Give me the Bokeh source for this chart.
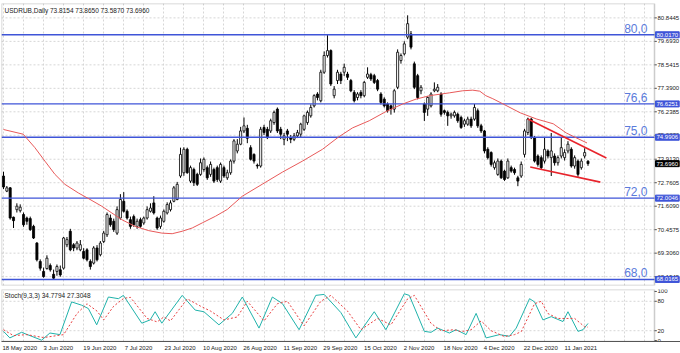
from bokeh.plotting import figure
from bokeh.models import Range1d, FixedTicker, Label, ColumnDataSource, BoxAnnotation
from bokeh.core.properties import value
from bokeh.layouts import column
from bokeh.embed import file_html
from bokeh.resources import INLINE

# ---------------- data ----------------
opens = [73.09, 72.35, 72.51, 71.07, 71.44, 71.39, 71.20, 71.03, 71.00, 70.62,
         69.80, 68.90, 68.41, 68.55, 68.70, 68.27, 68.41, 68.49, 68.57, 69.72,
         70.38, 69.72, 69.56, 69.47, 69.39, 69.47, 68.90, 68.82, 69.56, 69.23,
         69.88, 70.21, 71.03, 70.87, 70.29, 71.03, 71.85, 71.36, 70.95, 71.10,
         70.62, 70.95, 70.79, 71.03, 71.36, 71.77, 71.03, 70.62, 70.87, 71.28,
         71.44, 71.85, 71.94, 73.09, 73.25, 74.40, 72.84, 73.41, 73.17, 73.17,
         73.41, 73.50, 73.17, 73.41, 73.50, 72.84, 73.50, 73.00, 73.25, 73.82,
         74.32, 74.65, 75.30, 75.43, 74.48, 74.15, 73.62, 73.58, 75.47, 75.38,
         75.30, 75.71, 76.37, 75.38, 74.89, 75.30, 74.97, 74.89, 75.06, 75.14,
         75.38, 75.71, 76.04, 76.53, 77.11, 76.78, 78.18, 79.00, 79.24, 77.03,
         77.77, 78.09, 78.18, 78.09, 77.77, 77.19, 76.94, 77.19, 77.03, 77.93,
         78.06, 78.01, 77.77, 77.11, 76.86, 76.62, 76.53, 76.37, 77.44, 78.75,
         79.08, 79.90, 80.06, 78.59, 78.01, 77.27, 76.62, 76.37, 76.53, 77.27,
         77.27, 77.11, 76.29, 76.21, 76.04, 76.04, 76.12, 75.96, 75.63, 75.63,
         75.88, 75.88, 76.29, 75.55, 75.30, 74.40, 74.24, 73.50, 73.17, 73.82,
         73.33, 73.00, 73.50, 73.41, 73.00, 73.09, 74.15, 75.22, 75.88, 74.97,
         74.07, 73.99, 73.82, 74.32, 73.99, 74.07, 73.74, 74.07, 73.99, 74.32,
         74.40, 73.58, 73.82, 73.50, 74.07, 73.8154]
highs = [73.30, 72.60, 72.55, 71.10, 71.75, 71.70, 71.30, 71.10, 71.10, 70.70,
         69.85, 69.00, 68.60, 69.20, 68.80, 68.50, 68.75, 68.70, 70.10, 70.10,
         70.50, 69.80, 69.90, 69.95, 69.55, 69.55, 69.00, 69.65, 69.70, 69.90,
         70.40, 71.30, 71.20, 71.00, 71.60, 72.20, 72.30, 71.45, 71.10, 71.20,
         71.00, 71.05, 71.10, 71.60, 71.75, 72.10, 71.10, 71.15, 71.45, 71.80,
         71.90, 72.60, 72.80, 74.48, 74.50, 74.48, 73.60, 73.50, 73.25, 73.95,
         74.00, 73.60, 73.80, 73.50, 73.60, 73.75, 73.60, 73.40, 73.90, 74.90,
         74.90, 75.50, 75.96, 75.60, 74.60, 74.20, 73.70, 75.50, 75.60, 75.50,
         75.90, 76.30, 76.45, 75.50, 75.20, 75.40, 75.10, 75.20, 75.35, 75.70,
         76.10, 76.30, 76.60, 77.10, 77.20, 78.30, 79.20, 80.00, 79.30, 77.50,
         78.30, 78.20, 78.60, 78.20, 77.85, 77.30, 77.20, 77.30, 77.75, 78.42,
         78.15, 78.10, 77.85, 77.20, 76.95, 76.70, 76.60, 77.35, 79.30, 79.10,
         79.70, 80.97, 80.20, 78.70, 78.10, 77.55, 76.70, 77.00, 77.20, 77.68,
         77.60, 77.20, 76.35, 76.30, 76.20, 76.30, 76.20, 76.05, 75.90, 76.00,
         76.00, 76.62, 76.40, 75.65, 75.35, 74.50, 74.30, 73.85, 73.95, 73.90,
         73.40, 73.95, 73.60, 73.50, 73.10, 73.80, 75.40, 75.95, 75.95, 75.05,
         74.15, 74.10, 75.00, 74.40, 75.20, 74.20, 74.10, 74.97, 74.40, 74.80,
         74.50, 74.10, 73.90, 73.95, 74.45, 73.8650]
lows = [72.45, 72.30, 70.95, 70.54, 71.30, 71.30, 70.60, 70.70, 70.40, 70.00,
        68.90, 68.45, 68.10, 68.50, 68.40, 68.00, 68.20, 68.15, 68.50, 69.60,
        69.40, 69.40, 69.45, 69.40, 69.00, 68.90, 68.50, 68.75, 68.90, 69.15,
        69.80, 70.10, 70.60, 70.35, 70.20, 70.95, 71.30, 70.95, 70.50, 70.60,
        70.50, 70.55, 70.70, 70.95, 71.30, 71.20, 70.45, 70.50, 70.80, 71.20,
        71.35, 71.80, 71.90, 73.00, 73.10, 73.20, 72.75, 72.60, 72.60, 73.10,
        73.30, 72.90, 73.05, 72.75, 72.80, 72.75, 73.00, 72.90, 73.15, 73.70,
        74.20, 74.60, 75.20, 74.70, 73.85, 73.70, 73.45, 73.50, 75.10, 74.90,
        75.20, 75.60, 75.20, 74.90, 74.60, 74.80, 74.70, 74.80, 74.95, 75.00,
        75.30, 75.60, 75.95, 76.45, 76.80, 76.70, 78.10, 78.90, 77.50, 76.90,
        77.60, 77.60, 78.00, 77.80, 77.20, 76.70, 76.80, 76.90, 76.95, 77.85,
        77.75, 77.60, 77.25, 76.60, 76.45, 76.20, 76.10, 76.20, 77.35, 78.60,
        79.00, 79.80, 79.30, 77.35, 76.85, 77.10, 75.79, 76.04, 76.45, 77.20,
        77.20, 76.00, 76.10, 75.55, 75.90, 75.95, 75.70, 75.40, 75.50, 75.55,
        75.45, 75.80, 75.45, 75.20, 74.20, 73.90, 73.55, 73.40, 73.10, 72.95,
        72.85, 72.95, 73.25, 73.15, 72.59, 73.00, 74.00, 75.10, 74.90, 73.75,
        73.55, 73.40, 73.70, 73.95, 73.09, 73.60, 73.60, 73.95, 73.85, 74.20,
        73.50, 73.45, 73.05, 73.40, 73.95, 73.5870]
closes = [72.55, 72.51, 71.03, 70.90, 71.61, 71.56, 70.70, 70.87, 70.46, 70.05,
          68.98, 68.57, 68.16, 69.06, 68.49, 68.08, 68.65, 68.24, 70.05, 69.97,
          69.47, 69.56, 69.80, 69.72, 69.06, 68.98, 68.65, 69.56, 68.98, 69.80,
          70.29, 71.20, 70.70, 70.46, 71.44, 71.94, 71.36, 71.03, 70.62, 70.70,
          70.87, 70.62, 71.03, 71.44, 71.52, 71.28, 70.54, 71.03, 71.36, 71.69,
          71.77, 72.51, 72.68, 74.15, 74.40, 73.25, 73.50, 72.76, 72.68, 73.74,
          73.91, 73.00, 73.66, 72.84, 72.92, 73.66, 73.09, 73.25, 73.82, 74.81,
          74.65, 75.30, 75.55, 74.94, 73.91, 73.82, 73.58, 75.38, 75.22, 74.97,
          75.80, 76.21, 75.30, 75.14, 75.06, 75.14, 74.89, 75.06, 75.22, 75.63,
          76.04, 76.21, 76.45, 77.03, 76.94, 78.18, 79.00, 79.24, 77.60, 77.35,
          78.18, 77.77, 78.42, 77.93, 77.27, 76.78, 77.11, 77.03, 77.68, 78.09,
          77.85, 77.68, 77.35, 76.70, 76.53, 76.29, 76.37, 77.27, 79.16, 79.00,
          79.57, 80.56, 79.41, 77.44, 76.94, 77.44, 76.21, 76.94, 77.11, 77.35,
          77.44, 76.12, 76.21, 76.04, 76.12, 76.21, 75.80, 75.47, 75.80, 75.88,
          75.55, 76.45, 75.55, 75.30, 74.32, 73.99, 73.66, 73.74, 73.82, 73.00,
          72.92, 73.82, 73.33, 73.25, 72.84, 73.66, 75.30, 75.88, 74.97, 73.82,
          73.66, 73.50, 74.40, 74.07, 74.32, 73.74, 73.99, 74.48, 74.24, 74.65,
          73.58, 73.99, 73.17, 73.82, 74.24, 73.6960]

# moving average (red), read at points
ma_x = [0, 5.9, 9.4, 12.4, 15.4, 18.4, 22.4, 25.9, 29.4, 32.4, 35.4, 39.4, 43.5,
        47.4, 50.5, 53.5, 56.5, 59.5, 63.5, 67.0, 71.5, 77.5, 83.5, 89.5, 95.5,
        100.3, 104.5, 109.5, 114.5, 119.5, 123.5, 127.6, 133.6, 137.5, 140.5,
        142.6, 144.4, 146.5, 149.5, 154.7, 159.5, 164.6, 168.5, 171.5, 174.7]
ma_v = [75.37, 75.14, 74.48, 73.82, 73.17, 72.68, 72.26, 71.94, 71.61, 71.28,
        70.95, 70.62, 70.41, 70.29, 70.26, 70.38, 70.54, 70.79, 71.12, 71.45,
        72.10, 72.69, 73.28, 73.82, 74.40, 75.00, 75.45, 75.80, 76.25, 76.62,
        76.86, 77.03, 77.17, 77.27, 77.30, 77.25, 77.03, 76.88, 76.63, 76.19,
        75.89, 75.65, 75.20, 74.96, 74.71]

# triangle trend lines
tl_up_x = [157.0, 180.5]
tl_up_v = [75.89, 73.97]
tl_lo_x = [157.7, 178.7]
tl_lo_v = [73.53, 72.79]

levels = [80.0170, 76.6251, 74.9906, 72.0046, 68.0165]
level_names = ["80,0", "76,6", "75,0", "72,0", "68,0"]
last_close = 73.6960

price_ticks = [80.8445, 79.6930, 78.5415, 77.3900, 76.2385, 75.0870, 73.9130,
               72.7605, 71.6090, 70.4575, 69.3060, 68.1545]

# stochastic (9,3,3)
st_x = [0, 1.9, 5.4, 11.4, 13.9, 16.9, 20.4, 23.4, 25.4, 27.9, 31.4, 34.4, 35.9,
        41.4, 43.9, 45.4, 47.4, 53.5, 57.4, 60.0, 64.5, 68.5, 71.5, 76.5, 80.5,
        83.5, 88.5, 93.5, 96.0, 101.0, 105.5, 111.0, 114.5, 120.0, 121.5, 126.0,
        128.0, 130.0, 133.5, 135.5, 138.5, 141.5, 144.5, 148.5, 151.5, 153.5,
        157.5, 159.0, 161.5, 164.0, 167.5, 169.0, 172.0, 173.5, 175.0]
st_main = [18.7, 5.3, 16.7, 0.7, 15.3, 12.0, 78.7, 72.0, 65.3, 32.0, 88.7, 85.3,
           92.0, 35.3, 42.0, 58.7, 35.3, 92.0, 62.0, 58.7, 32.0, 55.3, 88.7, 25.3,
           88.7, 75.3, 22.0, 92.0, 94.0, 57.0, 5.3, 58.7, 22.0, 95.3, 92.0, 18.7,
           16.7, 25.3, 15.3, 22.0, 12.0, 55.3, 5.3, 12.0, 8.7, 25.3, 85.3, 78.7,
           42.0, 48.7, 38.7, 58.7, 18.7, 22.0, 34.78]
sg_x = [0, 3, 7, 12, 15, 18, 22, 25, 28, 30, 33, 36, 38, 43, 46, 48, 50, 55, 59,
        62, 66, 70, 73, 78, 82, 85, 90, 95, 98, 103, 107, 112, 116, 121, 123, 128,
        131, 135, 137, 140, 143, 146, 150, 153, 155, 159, 161, 163, 166, 169, 171,
        174, 175]
sg_main = [22, 10, 12, 6, 9, 12, 55, 75, 60, 42, 70, 86, 88, 45, 38, 48, 40, 85,
           70, 60, 42, 48, 80, 40, 75, 80, 30, 80, 92, 60, 22, 45, 32, 85, 92, 35,
           20, 22, 18, 22, 40, 20, 8, 12, 18, 75, 80, 55, 45, 45, 45, 28, 27.30]
stoch_ticks = [100, 80, 20, 0]

date_ticks = [0, 12, 24, 36, 48, 60, 72, 84, 96, 108, 120, 132, 144, 156, 168]
date_labels = ["18 May 2020", "3 Jun 2020", "19 Jun 2020", "7 Jul 2020",
               "23 Jul 2020", "10 Aug 2020", "26 Aug 2020", "11 Sep 2020",
               "29 Sep 2020", "15 Oct 2020", "2 Nov 2020", "18 Nov 2020",
               "4 Dec 2020", "22 Dec 2020", "11 Jan 2021"]

# ---------------- styling / layout ----------------
FONT = "Liberation Sans"
BLUE = "#3F55D8"
LBLUE = "#5B7BDB"
GRID = "#D6D6D6"
EDGE = "#555555"
PX_PER_BAR = 3.34
X0 = -0.6
XS = X0 + 653 / PX_PER_BAR          # right edge of the chart area (price scale starts)
X1 = X0 + 679 / PX_PER_BAR          # right edge of the window
Y0, Y1 = 67.72, 81.55
CHAR_PX = 2.95
vgrid = list(range(0, 195, 6))


def value_box(y, txt, color):
    lab = Label(x=XS, y=y, x_offset=1, text=txt, text_align="left",
                text_baseline="middle", text_font=FONT, text_font_size="6px",
                text_color="white", background_fill_color=color,
                background_fill_alpha=1.0, border_line_color=color)
    try:
        lab.padding = 1
    except Exception:
        pass
    return lab


idx = list(range(len(closes)))
up = [i for i in idx if closes[i] >= opens[i]]
dn = [i for i in idx if closes[i] < opens[i]]

main = figure(width=680, height=287, x_range=Range1d(X0, X1),
              y_range=Range1d(Y0, Y1), output_backend="svg",
              toolbar_location=None, x_axis_location=None, y_axis_location=None,
              min_border_left=1, min_border_right=0, min_border_top=3,
              min_border_bottom=2)
main.outline_line_color = None
main.xgrid.ticker = FixedTicker(ticks=vgrid)
main.xgrid.grid_line_color = GRID
main.xgrid.grid_line_dash = "2 2"
main.ygrid.visible = False

# horizontal grid lines of the price scale (chart area only)
main.segment(x0=X0, y0=price_ticks, x1=XS, y1=price_ticks, line_color=GRID,
             line_dash="2 2", line_width=1)

# candles
main.segment(x0=idx, y0=lows, x1=idx, y1=highs, line_color="black", line_width=1)
src_up = ColumnDataSource(dict(x=up, top=[closes[i] for i in up], bottom=[opens[i] for i in up]))
src_dn = ColumnDataSource(dict(x=dn, top=[opens[i] for i in dn], bottom=[closes[i] for i in dn]))
main.vbar(x="x", top="top", bottom="bottom", width=0.62, source=src_up,
          fill_color="white", line_color="black", line_width=0.8)
main.vbar(x="x", top="top", bottom="bottom", width=0.62, source=src_dn,
          fill_color="black", line_color="black", line_width=0.8)

# horizontal levels
main.segment(x0=X0, y0=levels, x1=XS, y1=levels, line_color=BLUE, line_width=1.4)

main.line(ma_x, ma_v, line_color="#E85A5A", line_width=1)
main.line(tl_up_x, tl_up_v, line_color="#E8242C", line_width=1.6)
main.line(tl_lo_x, tl_lo_v, line_color="#E8242C", line_width=1.6)

# chart border and price scale
main.add_layout(BoxAnnotation(left=X0, right=XS, bottom=Y0, top=Y1, fill_alpha=0,
                              line_color=EDGE, line_width=1.5))
main.segment(x0=XS, y0=price_ticks, x1=XS + 0.7, y1=price_ticks, line_color=EDGE, line_width=1)
main.text(x=XS, y=price_ticks, text=[f"{t:.4f}" for t in price_ticks], x_offset=3,
          text_baseline="middle", text_align="left", text_font=value(FONT),
          text_font_size="6px", text_color="#222222")

for lv, nm in zip(levels, level_names):
    main.add_layout(Label(x=XS, y=lv, x_offset=-7, y_offset=2, text=nm,
                          text_align="right", text_baseline="bottom",
                          text_font=FONT, text_font_size="12px", text_color=LBLUE))
    main.add_layout(value_box(lv, f"{lv:.4f}", BLUE))
main.add_layout(value_box(last_close, f"{last_close:.4f}", "black"))

main.add_layout(Label(x=X0, y=Y1, x_offset=3, y_offset=-3,
                      text="USDRUB,Daily  73.8154 73.8650 73.5870 73.6960",
                      text_baseline="top", text_font=FONT, text_font_size="6.5px",
                      text_color="#222222"))

# ---------------- stochastic panel ----------------
S0, S1 = -2, 104
st = figure(width=680, height=66, x_range=main.x_range, y_range=Range1d(S0, S1),
            output_backend="svg", toolbar_location=None, y_axis_location=None,
            min_border_left=1, min_border_right=0, min_border_top=2,
            min_border_bottom=0)
st.outline_line_color = None
st.xgrid.ticker = FixedTicker(ticks=vgrid)
st.xgrid.grid_line_color = GRID
st.xgrid.grid_line_dash = "2 2"
st.ygrid.visible = False
st.segment(x0=X0, y0=[20, 80], x1=XS, y1=[20, 80], line_color=GRID,
           line_dash="2 2", line_width=1)

# date labels start at their bar (left aligned like the terminal)
lab_pos = [t + len(l) * CHAR_PX / 2 / PX_PER_BAR for t, l in zip(date_ticks, date_labels)]
xa = st.xaxis[0]
xa.ticker = FixedTicker(ticks=lab_pos)
xa.major_label_overrides = {p: l for p, l in zip(lab_pos, date_labels)}
xa.major_label_text_font_size = "6px"
xa.major_label_text_font = FONT
xa.major_label_text_color = "#222222"
xa.major_tick_out = 0
xa.major_tick_in = 0
xa.minor_tick_out = 0
xa.minor_tick_in = 0
xa.major_label_standoff = 3
xa.axis_line_color = EDGE

st.line(st_x, st_main, line_color="#20B2AA", line_width=1)
st.line(sg_x, sg_main, line_color="#E84040", line_width=1, line_dash="2 2")

st.add_layout(BoxAnnotation(left=X0, right=XS, bottom=S0, top=S1, fill_alpha=0,
                            line_color=EDGE, line_width=1.5))
st.segment(x0=XS, y0=stoch_ticks, x1=XS + 0.7, y1=stoch_ticks, line_color=EDGE, line_width=1)
st.text(x=XS, y=stoch_ticks, text=[str(t) for t in stoch_ticks], x_offset=3,
        text_baseline="middle", text_align="left", text_font=value(FONT),
        text_font_size="6px", text_color="#222222")
st.add_layout(Label(x=X0, y=S1, x_offset=3, y_offset=-2,
                    text="Stoch(9,3,3) 34.7794 27.3048", text_baseline="top",
                    text_font=FONT, text_font_size="6.5px", text_color="#222222"))

layout = column(main, st, spacing=0)
open("out.html", "w").write(file_html(layout, INLINE))
